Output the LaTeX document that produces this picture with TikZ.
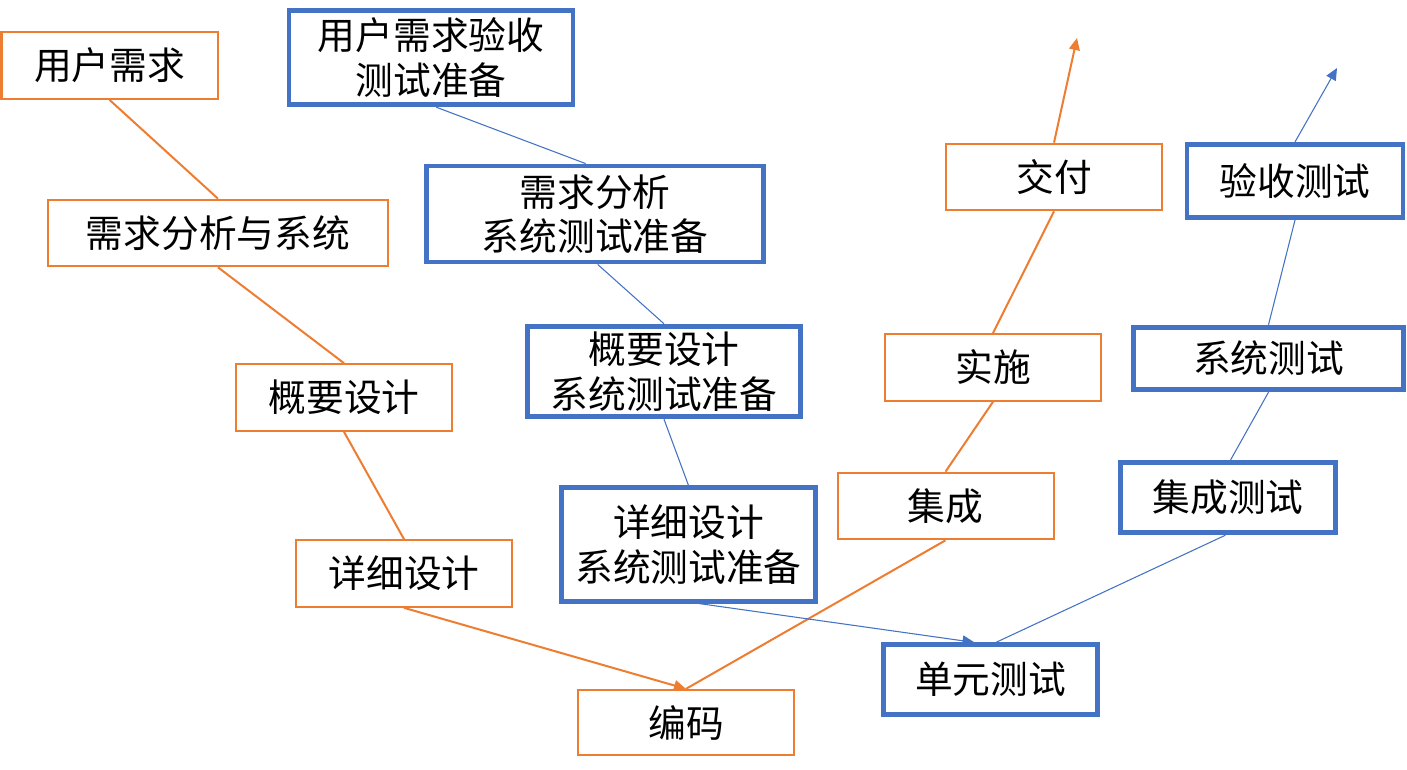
\documentclass[tikz,border=0pt]{standalone}
\usepackage{fontspec}
\setmainfont{Noto Sans CJK SC}
\usetikzlibrary{arrows.meta}
\definecolor{oorange}{HTML}{ED7D31}
\definecolor{oblue}{HTML}{4472C4}
\begin{document}
\begin{tikzpicture}[x=0.75pt,y=-0.75pt,
  every node/.style={font=\fontsize{28.3}{33.5}\selectfont, align=center, inner sep=0pt},
  obox/.style={draw=oorange, line width=1.5pt, fill=white},
  bbox/.style={draw=oblue, line width=3.6pt, fill=white},
  oline/.style={draw=oorange, line width=1.5pt},
  bline/.style={draw=oblue, line width=0.8pt},
  oarrow/.style={oline, -{Triangle[length=9pt,width=8pt]}},
  barrow/.style={bline, -{Triangle[length=9pt,width=8pt]}}]
\useasboundingbox (0,0) rectangle (1407,770);
% orange boxes
\node[obox, minimum width=162pt, minimum height=50pt] (a1) at (109.5,65.5) {用户需求};
\node[obox, minimum width=255pt, minimum height=50pt] (a2) at (218,233) {需求分析与系统};
\node[obox, minimum width=162pt, minimum height=50pt] (a3) at (344,397.5) {概要设计};
\node[obox, minimum width=162pt, minimum height=50pt] (a4) at (404,573.5) {详细设计};
\node[obox, minimum width=162pt, minimum height=49pt] (a5) at (686,722.5) {编码};
\node[obox, minimum width=162pt, minimum height=50pt] (a6) at (945.5,506) {集成};
\node[obox, minimum width=162pt, minimum height=50pt] (a7) at (993,367.5) {实施};
\node[obox, minimum width=162pt, minimum height=50pt] (a8) at (1054,177) {交付};
\coordinate (a9) at (1077,38);
% blue boxes
\node[bbox, minimum width=213pt, minimum height=71pt] (b1) at (431,57.5) {用户需求验收\\测试准备};
\node[bbox, minimum width=253pt, minimum height=72pt] (b2) at (595,214) {需求分析\\系统测试准备};
\node[bbox, minimum width=205pt, minimum height=68pt] (b3) at (664,371.5) {概要设计\\系统测试准备};
\node[bbox, minimum width=191pt, minimum height=85pt] (b4) at (688.5,544.5) {详细设计\\系统测试准备};
\node[bbox, minimum width=161pt, minimum height=52pt] (b5) at (990.5,679.5) {单元测试};
\node[bbox, minimum width=161pt, minimum height=53pt] (b6) at (1228,497.5) {集成测试};
\node[bbox, minimum width=203pt, minimum height=47pt] (b7) at (1268.5,358.5) {系统测试};
\node[bbox, minimum width=162pt, minimum height=55pt] (b8) at (1295,181) {验收测试};
\coordinate (b9) at (1337,68);
% orange connectors
\path[oline] (a1.south) -- (a2.north);
\path[oline] (a2.south) -- (a3.north);
\path[oline] (a3.south) -- (a4.north);
\path[oarrow] (a4.south) -- (a5.north);
\path[oline] (a6.south) -- (a5.north);
\path[oline] (a6.north) -- (a7.south);
\path[oline] (a7.north) -- (a8.south);
\path[oarrow] (a8.north) -- (a9);
% blue connectors
\path[bline] ([xshift=4pt]b1.south) -- ([xshift=-7pt]b2.north);
\path[bline] ([xshift=2pt]b2.south) -- (b3.north);
\path[bline] (b3.south) -- (b4.north);
\path[barrow] ([xshift=8pt]b4.south) -- ([xshift=-12pt]b5.north);
\path[bline] ([xshift=-2pt]b6.south) -- ([xshift=4pt]b5.north);
\path[bline] ([xshift=2pt]b6.north) -- (b7.south);
\path[bline] (b7.north) -- (b8.south);
\path[barrow] (b8.north) -- (b9);
\end{tikzpicture}
\end{document}
